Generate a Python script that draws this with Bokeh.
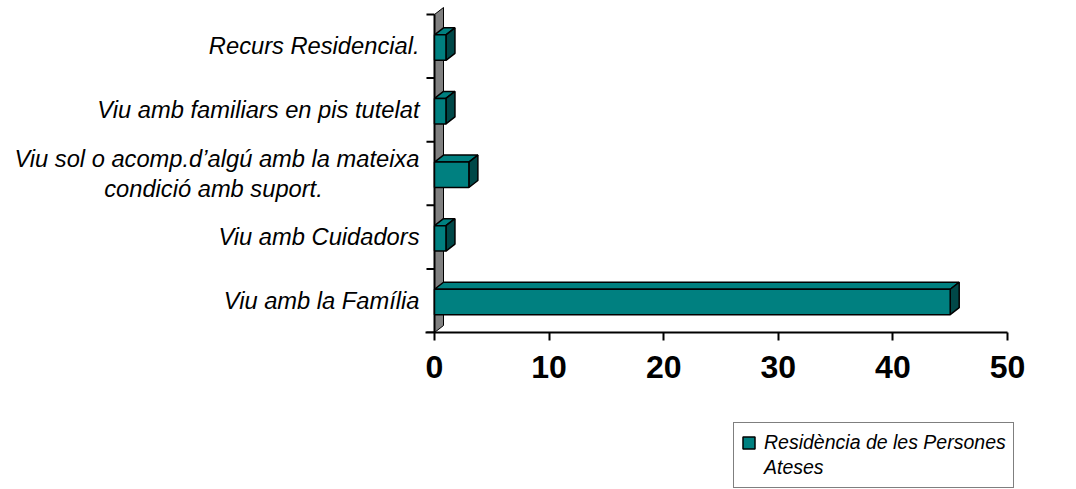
from bokeh.plotting import figure
from bokeh.layouts import column
from bokeh.models import Range1d, LinearAxis, FixedTicker, Legend, LegendItem, Grid
from bokeh.core.properties import value
from bokeh.embed import file_html
from bokeh.resources import INLINE

# ---- data (bottom to top) ----
categories = [
    "Viu amb la Família",
    "Viu amb Cuidadors",
    "Viu sol o acomp.d’algú amb la mateixa\ncondició amb suport.",
    "Viu amb familiars en pis tutelat",
    "Recurs Residencial.",
]
values = [45, 1, 3, 1, 1]
x_ticks = [0, 10, 20, 30, 40, 50]
series_name = "Residència de les Persones\nAteses"

# ---- styling constants ----
PX_X = 11.46          # pixels per x unit
PX_Y = 63.6           # pixels per category
DX = 9 / PX_X         # 3D depth offset (x)
DY = 7 / PX_Y         # 3D depth offset (y)
FONT = "Liberation Sans"
TEAL = "#008080"
TEAL_DARK = "#004848"
n = len(categories)

p = figure(width=1076, height=410,
           x_range=Range1d(-434 / PX_X, 581 / PX_X),
           y_range=Range1d(0, 332 / PX_Y),
           x_axis_location=None, y_axis_location=None,
           output_backend="svg", toolbar_location=None,
           min_border_left=0, min_border_top=0,
           min_border_right=61, min_border_bottom=78)
p.outline_line_color = None
p.background_fill_color = "white"
p.border_fill_color = "white"
for r in p.center:
    if isinstance(r, Grid):
        r.visible = False

# x axis
xaxis = LinearAxis(ticker=FixedTicker(ticks=x_ticks), bounds=(-0.75, x_ticks[-1]))
xaxis.axis_line_width = 2
xaxis.axis_line_color = "black"
xaxis.major_tick_line_width = 2
xaxis.major_tick_out = 8
xaxis.major_tick_in = 0
xaxis.minor_tick_out = 0
xaxis.minor_tick_in = 0
xaxis.major_label_text_font = FONT
xaxis.major_label_text_font_style = "bold"
xaxis.major_label_text_font_size = "32px"
xaxis.major_label_text_color = "black"
xaxis.major_label_standoff = 15
p.add_layout(xaxis, "below")

# back wall (gray, 3D)
p.patch(x=[0, 0, DX, DX], y=[0, n, n + DY, DY],
        fill_color="#808080", line_color="black", line_width=1)

# vertical category axis with boundary ticks
p.segment(x0=[0], y0=[0], x1=[0], y1=[n], line_color="black", line_width=2)
p.segment(x0=[-0.7] * (n + 1), y0=list(range(n + 1)),
          x1=[0] * (n + 1), y1=list(range(n + 1)),
          line_color="black", line_width=2)

# bars (3D)
H = 0.4
bottoms = [i + 0.5 - 0.02 - H / 2 for i in range(n)]
tops = [b + H for b in bottoms]
top_xs = [[0, v, v + DX, DX] for v in values]
top_ys = [[t, t, t + DY, t + DY] for t in tops]
side_xs = [[v, v, v + DX, v + DX] for v in values]
side_ys = [[b, t, t + DY, b + DY] for b, t in zip(bottoms, tops)]
p.patches(xs=top_xs, ys=top_ys, fill_color=TEAL, line_color="black", line_width=1.5)
p.patches(xs=side_xs, ys=side_ys, fill_color=TEAL_DARK, line_color="black", line_width=1.5)
p.quad(left=[0] * n, right=values, bottom=bottoms, top=tops,
       fill_color=TEAL, line_color="black", line_width=1.5)

# category labels
lx, ly, l2x, l2y, l1, l2 = [], [], [], [], [], []
for i, c in enumerate(categories):
    parts = c.split("\n")
    if len(parts) == 1:
        l1.append(parts[0]); lx.append(-15 / PX_X); ly.append(i + 0.5)
    else:
        l1.append(parts[0]); lx.append(-15 / PX_X); ly.append(i + 0.5 + 15 / PX_Y)
        l2.append(parts[1]); l2x.append(-221 / PX_X); l2y.append(i + 0.5 - 15.5 / PX_Y)
p.text(x=lx, y=ly, text=l1, text_align="right", text_baseline="middle",
       text_font=value(FONT), text_font_style="italic", text_font_size="23.7px", text_color="black")
p.text(x=l2x, y=l2y, text=l2, text_align="center", text_baseline="middle",
       text_font=value(FONT), text_font_style="italic", text_font_size="23.7px", text_color="black")

# legend panel (second figure below the chart)
q = figure(width=1076, height=79, x_range=Range1d(0, 1076), y_range=Range1d(0, 79),
           x_axis_location=None, y_axis_location=None,
           output_backend="svg", toolbar_location=None, min_border=0)
q.outline_line_color = None
for r in q.center:
    if isinstance(r, Grid):
        r.visible = False
swatch = q.quad(left=[-20], right=[-10], bottom=[-20], top=[-10],
                fill_color=TEAL, line_color="black", line_width=1.5)
blank = q.quad(left=[-20], right=[-10], bottom=[-20], top=[-10],
               fill_alpha=0, line_alpha=0)
name_lines = series_name.split("\n")
legend = Legend(items=[LegendItem(label=name_lines[0], renderers=[swatch]),
                       LegendItem(label=name_lines[1], renderers=[blank])],
                location=(733, 1))
legend.label_text_font = FONT
legend.label_text_font_style = "italic"
legend.label_text_font_size = "19.5px"
legend.label_text_color = "black"
legend.label_height = 25
legend.border_line_color = "black"
legend.border_line_width = 1.5
legend.padding = 7
legend.spacing = 0
legend.margin = 0
legend.glyph_width = 15
legend.glyph_height = 15
legend.label_standoff = 8
legend.background_fill_alpha = 1
q.add_layout(legend)

layout = column(p, q, spacing=0)
open("out.html", "w", encoding="utf-8").write(file_html(layout, INLINE))
